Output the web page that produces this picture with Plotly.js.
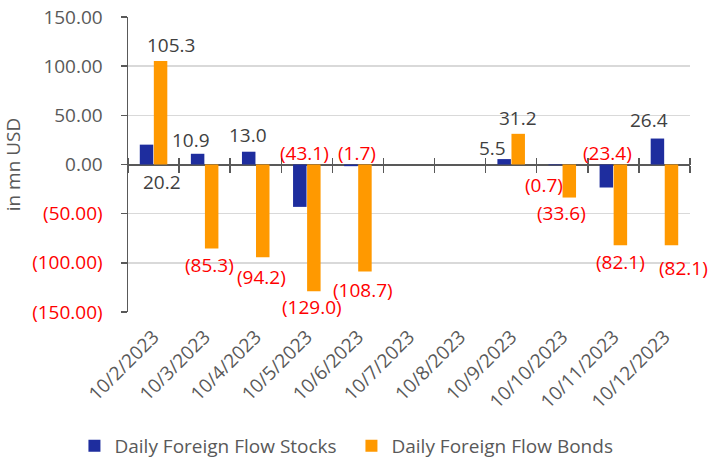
<!DOCTYPE html>
<html>
<head>
<meta charset="utf-8">
<script src="https://cdn.plot.ly/plotly-3.0.1.min.js"></script>
<style>html,body{margin:0;padding:0;background:#fff;}#chart{width:709px;height:465px;}</style>
</head>
<body>
<div id="chart"></div>
<script>
// ---- data ----
const dates = ['10/2/2023','10/3/2023','10/4/2023','10/5/2023','10/6/2023','10/7/2023','10/8/2023','10/9/2023','10/10/2023','10/11/2023','10/12/2023'];
const stocks = [20.2, 10.9, 13.0, -43.1, -1.7, null, null, 5.5, -0.7, -23.4, 26.4];
const bonds = [105.3, -85.3, -94.2, -129.0, -108.7, null, null, 31.2, -33.6, -82.1, -82.1];
const yTickVals = [150, 100, 50, 0, -50, -100, -150];
const yTickLabels = ['150.00', '100.00', '50.00', '0.00', '(50.00)', '(100.00)', '(150.00)'];
const seriesNames = ['Daily Foreign Flow Stocks', 'Daily Foreign Flow Bonds'];

// ---- label placement styling (pixel nudges, relative to category centre) ----
const stockLabelAt = ['zero','end','end','zero','zero',null,null,'end','zero','zero','end'];
const stockLabelDx = [8.5,-13.6,-7.7,-2.8,-1,0,0,-19,-18,-6,-15.5];
const stockLabelDy = [17.7,-13.6,-16.5,-12,-12,0,0,-11,20.7,-12,-18.4];
const bondLabelDx = [17.5,4.4,5.3,5.2,5,0,0,6.8,-0.3,7.6,19.5];
const bondLabelDy = [-16,17,20,16,19,0,0,-15.7,15.7,17,23];

const POS = '#404040', NEG = '#FF0000', AX = '#595959';
const FONT = '"Open Sans", "Noto Sans", sans-serif';
const FS = 19;
function fmt(v){ return v < 0 ? '(' + Math.abs(v).toFixed(1) + ')' : v.toFixed(1); }

const annotations = [];
function addLabels(vals, at, dx, dy){
  vals.forEach((v, i) => {
    if (v === null || v === undefined) return;
    annotations.push({
      x: dates[i], y: (at && at[i] === 'zero') ? 0 : v, xref: 'x', yref: 'y',
      text: fmt(v), showarrow: false, xanchor: 'center', yanchor: 'middle',
      xshift: dx[i], yshift: -dy[i],
      font: {family: FONT, size: FS, color: v < 0 ? NEG : POS}
    });
  });
}
addLabels(stocks, stockLabelAt, stockLabelDx, stockLabelDy);
addLabels(bonds, null, bondLabelDx, bondLabelDy);

const yTickText = yTickVals.map((v, i) => v < 0 ? '<span style="color:' + NEG + '">' + yTickLabels[i] + '</span>' : yTickLabels[i]);

const traces = [
  {type: 'bar', x: dates, y: stocks, name: seriesNames[0], marker: {color: '#1E2D9E'}, hoverinfo: 'x+y'},
  {type: 'bar', x: dates, y: bonds, name: seriesNames[1], marker: {color: '#FF9900'}, hoverinfo: 'x+y'},
  {type: 'scatter', mode: 'none', x: dates, y: stocks, xaxis: 'x2', showlegend: false, hoverinfo: 'skip'},
  {type: 'scatter', mode: 'none', x: dates, y: stocks, xaxis: 'x3', showlegend: false, hoverinfo: 'skip'}
];

const catAxisBase = {type: 'category', categoryorder: 'array', categoryarray: dates, range: [-0.5, dates.length - 0.5], automargin: false};
const tickAxis = (side) => Object.assign({}, catAxisBase, {
  overlaying: 'x', anchor: 'free', position: 0.5, side: side,
  tickson: 'boundaries', ticks: 'outside', ticklen: 7, tickwidth: 1.5, tickcolor: AX,
  showticklabels: false, showgrid: false, showline: false, zeroline: false, fixedrange: true
});

const layout = {
  width: 709, height: 465,
  margin: {l: 128, r: 19, t: 17, b: 153},
  paper_bgcolor: '#fff', plot_bgcolor: '#fff',
  font: {family: FONT, size: FS, color: AX},
  barmode: 'group', bargap: 0.45, bargroupgap: 0.04,
  showlegend: true,
  legend: {orientation: 'h', xref: 'container', yref: 'container', x: 0.105, xanchor: 'left', y: -0.009, yanchor: 'bottom',
           entrywidth: 232, entrywidthmode: 'pixels',
           font: {family: FONT, size: FS, color: AX}, bgcolor: 'rgba(0,0,0,0)'},
  xaxis: Object.assign({}, catAxisBase, {
    tickangle: -45, tickfont: {family: FONT, size: FS, color: AX}, ticklabelstandoff: 9,
    showgrid: false, showline: false, zeroline: false, ticks: ''
  }),
  xaxis2: tickAxis('bottom'),
  xaxis3: tickAxis('top'),
  yaxis: {
    range: [-150, 150], tickmode: 'array', tickvals: yTickVals, ticktext: yTickText, automargin: false,
    tickfont: {family: FONT, size: FS, color: AX},
    showline: true, linecolor: AX, linewidth: 1.5,
    ticks: 'outside', ticklen: 6, tickwidth: 1.5, tickcolor: AX, ticklabelstandoff: 14,
    showgrid: true, gridcolor: '#D9D9D9', gridwidth: 1.5,
    zeroline: true, zerolinecolor: AX, zerolinewidth: 2,
    title: {text: 'in mn USD', font: {family: FONT, size: FS, color: AX}, standoff: 8}
  },
  annotations: annotations
};

Plotly.newPlot('chart', traces, layout, {displayModeBar: false, staticPlot: true});
</script>
</body>
</html>
